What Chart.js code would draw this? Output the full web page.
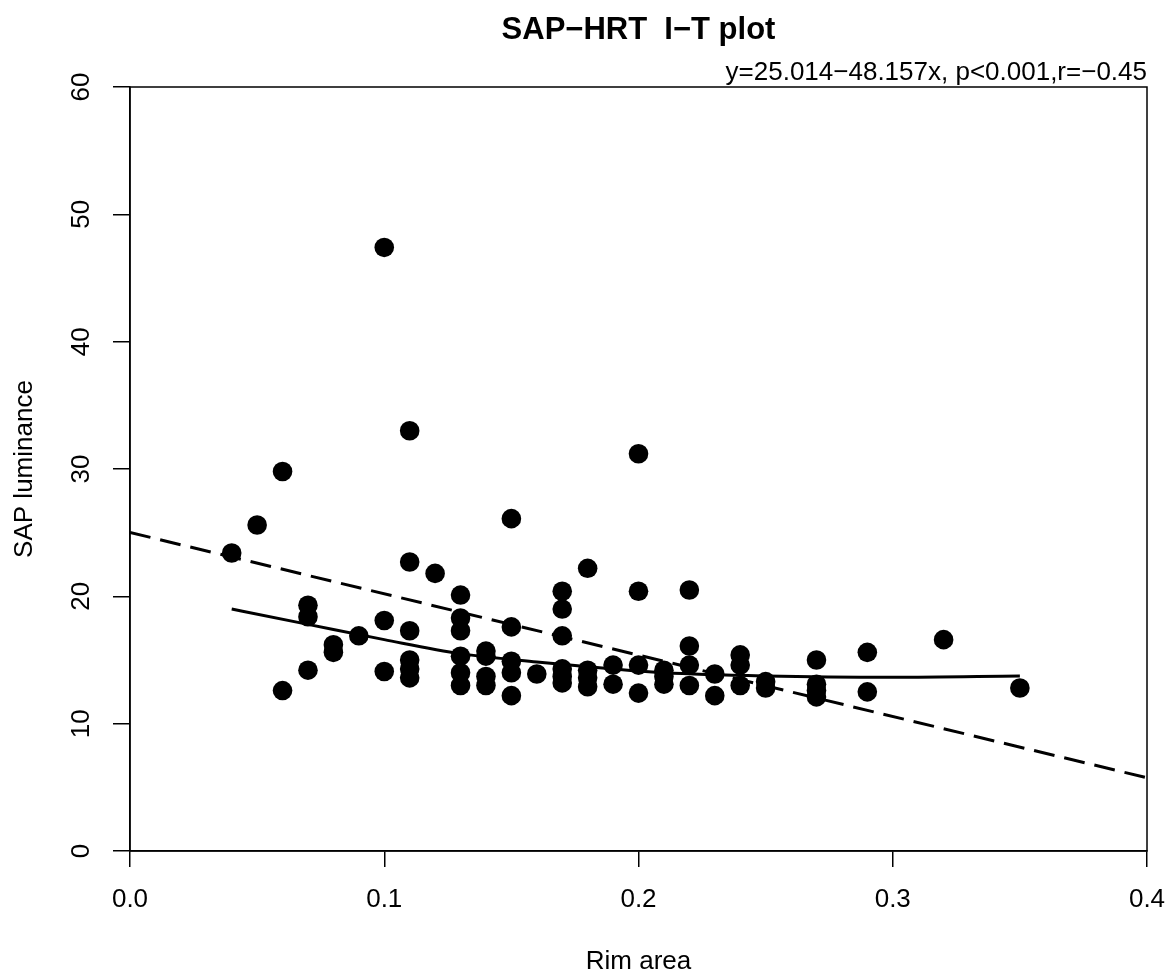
<!DOCTYPE html>
<html>
<head>
<meta charset="utf-8">
<title>SAP-HRT I-T plot</title>
<script src="https://cdn.jsdelivr.net/npm/chart.js@4.4.1/dist/chart.umd.min.js"></script>
<style>
    body { margin: 0; background: #fff; }
    #wrap { width: 1170px; height: 975px; }
</style>
</head>
<body>
<div id="wrap"><canvas id="itPlot" width="1170" height="975"></canvas></div>
<script>
// values
const rimArea = [
    0.04, 0.05, 0.06, 0.06, 0.07, 0.07, 0.07, 0.08, 0.08, 0.09,
    0.10, 0.10, 0.10,
    0.11, 0.11, 0.11, 0.11, 0.11, 0.11,
    0.12,
    0.13, 0.13, 0.13, 0.13, 0.13, 0.13,
    0.14, 0.14, 0.14, 0.14,
    0.15, 0.15, 0.15, 0.15, 0.15,
    0.16,
    0.17, 0.17, 0.17, 0.17, 0.17, 0.17,
    0.18, 0.18, 0.18, 0.18,
    0.19, 0.19,
    0.20, 0.20, 0.20, 0.20,
    0.21, 0.21, 0.21,
    0.22, 0.22, 0.22, 0.22,
    0.23, 0.23,
    0.24, 0.24, 0.24,
    0.25, 0.25,
    0.27, 0.27, 0.27, 0.27,
    0.29, 0.29,
    0.32, 0.35
];
const sapLuminance = [
    23.4, 25.6, 29.8, 12.6, 19.3, 18.4, 14.2, 16.2, 15.6, 16.9,
    47.4, 18.1, 14.1,
    33.0, 22.7, 17.3, 15.0, 14.3, 13.6,
    21.8,
    20.1, 18.3, 17.3, 15.3, 14.0, 13.0,
    15.7, 15.3, 13.7, 13.0,
    26.1, 17.6, 14.9, 14.0, 12.2,
    13.9,
    20.4, 19.0, 16.9, 14.3, 13.7, 13.2,
    22.2, 14.2, 13.6, 12.9,
    14.6, 13.1,
    31.2, 20.4, 14.6, 12.4,
    14.2, 13.7, 13.1,
    20.5, 16.1, 14.6, 13.0,
    13.9, 12.2,
    15.4, 14.6, 13.0,
    13.3, 12.8,
    15.0, 13.1, 12.6, 12.1,
    15.6, 12.5,
    16.6, 12.8
];

// smooth (lowess) curve
const lowessX = [0.04, 0.07, 0.10, 0.13, 0.16, 0.19, 0.21, 0.25, 0.30, 0.35];
const lowessY = [19.0, 17.8, 16.6, 15.5, 14.85, 14.3, 14.0, 13.75, 13.65, 13.75];

// regression line y = 25.014 - 48.157x, end points
const regX = [0.0, 0.4];
const regY = [25.014, 5.751];

const xTicks = [0.0, 0.1, 0.2, 0.3, 0.4];
const yTicks = [0, 10, 20, 30, 40, 50, 60];

const plotTitle = 'SAP\u2212HRT  I\u2212T plot';
const fitText = 'y=25.014\u221248.157x, p<0.001,r=\u22120.45';
const xLabel = 'Rim area';
const yLabel = 'SAP luminance';

const FONT = '"Liberation Sans", Arial, Helvetica, sans-serif';

function toXY(xs, ys) {
    return xs.map((x, i) => ({ x: x, y: ys[i] }));
}

// R-style box, rotated y labels and texts
const rPlotDecor = {
    id: 'rPlotDecor',
    afterDraw(chart) {
        const ctx = chart.ctx;
        const a = chart.chartArea;
        const xs = chart.scales.x;
        const ys = chart.scales.y;
        ctx.save();
        ctx.strokeStyle = '#000';
        ctx.lineWidth = 1.5;
        ctx.strokeRect(a.left, a.top, a.right - a.left, a.bottom - a.top);

        ctx.fillStyle = '#000';
        ctx.font = '26px ' + FONT;
        ctx.textBaseline = 'alphabetic';
        ctx.textAlign = 'center';

        xTicks.forEach(v => {
            ctx.fillText(v.toFixed(1), xs.getPixelForValue(v), 907);
        });
        yTicks.forEach(v => {
            ctx.save();
            ctx.translate(89, ys.getPixelForValue(v));
            ctx.rotate(-Math.PI / 2);
            ctx.fillText(String(v), 0, 0);
            ctx.restore();
        });

        ctx.fillText(xLabel, (a.left + a.right) / 2, 969);
        ctx.save();
        ctx.translate(32, (a.top + a.bottom) / 2);
        ctx.rotate(-Math.PI / 2);
        ctx.fillText(yLabel, 0, 0);
        ctx.restore();

        ctx.textAlign = 'right';
        ctx.fillText(fitText, a.right, 80);

        ctx.textAlign = 'center';
        ctx.font = 'bold 31px ' + FONT;
        ctx.fillText(plotTitle, (a.left + a.right) / 2, 39);
        ctx.restore();
    }
};

const ctx = document.getElementById('itPlot').getContext('2d');
new Chart(ctx, {
    type: 'scatter',
    data: {
        datasets: [
            {
                label: 'points',
                data: toXY(rimArea, sapLuminance),
                backgroundColor: '#000',
                borderColor: '#000',
                borderWidth: 0,
                pointRadius: 9.8,
                order: 3
            },
            {
                type: 'line',
                label: 'lowess',
                data: toXY(lowessX, lowessY),
                borderColor: '#000',
                borderWidth: 3,
                pointRadius: 0,
                fill: false,
                cubicInterpolationMode: 'monotone',
                order: 2
            },
            {
                type: 'line',
                label: 'fit',
                data: toXY(regX, regY),
                borderColor: '#000',
                borderWidth: 3,
                borderDash: [21, 10],
                pointRadius: 0,
                fill: false,
                order: 1
            }
        ]
    },
    options: {
        responsive: false,
        animation: false,
        layout: { padding: { top: 87, right: 23, left: 0, bottom: 0 } },
        plugins: {
            legend: { display: false },
            tooltip: { enabled: false }
        },
        scales: {
            x: {
                type: 'linear',
                min: 0,
                max: 0.4,
                afterBuildTicks: scale => { scale.ticks = xTicks.map(v => ({ value: v })); },
                afterFit: scale => { scale.height = 124; },
                ticks: { display: false },
                grid: { drawOnChartArea: false, drawTicks: true, tickLength: 16, color: '#000', lineWidth: 1.5 },
                border: { display: true, color: '#000', width: 1.5 }
            },
            y: {
                type: 'linear',
                min: 0,
                max: 60,
                afterBuildTicks: scale => { scale.ticks = yTicks.map(v => ({ value: v })); },
                afterFit: scale => { scale.width = 130; },
                ticks: { display: false },
                grid: { drawOnChartArea: false, drawTicks: true, tickLength: 17, color: '#000', lineWidth: 1.5 },
                border: { display: true, color: '#000', width: 1.5 }
            }
        }
    },
    plugins: [rPlotDecor]
});
</script>
</body>
</html>
